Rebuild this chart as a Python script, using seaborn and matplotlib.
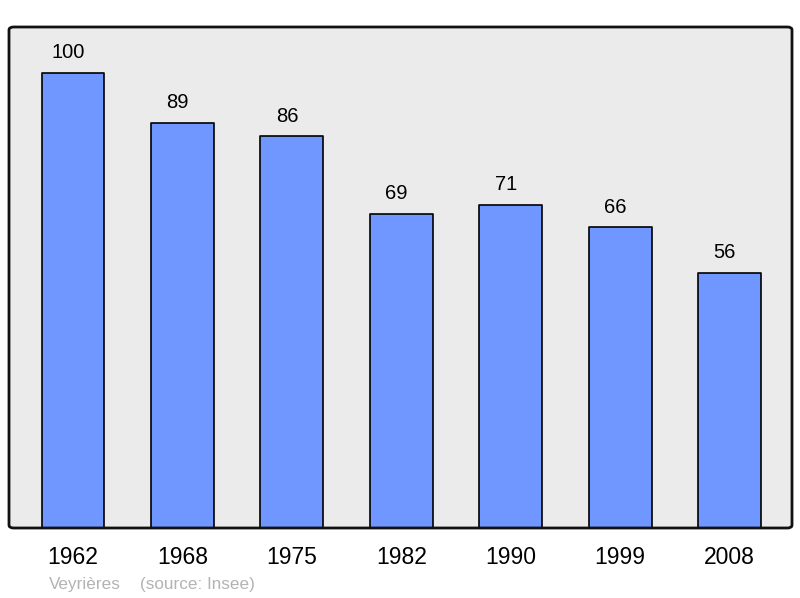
"""
Population de Veyrières (source: Insee)
"""

import matplotlib
matplotlib.use("Agg")
import matplotlib.pyplot as plt
from matplotlib.patches import FancyBboxPatch
import pandas as pd
import seaborn as sns

sns.set_style("white")
plt.rcParams["font.family"] = ["Liberation Sans", "DejaVu Sans"]
plt.rcParams["text.color"] = "black"
plt.rcParams["xtick.color"] = "black"

years = ["1962", "1968", "1975", "1982", "1990", "1999", "2008"]
population = [100, 89, 86, 69, 71, 66, 56]

data = pd.DataFrame({"annee": years, "pop": population})

fig = plt.figure(figsize=(8, 5.98), dpi=100)
ax = fig.add_axes([9 / 800, 70 / 598, 783 / 800, 501 / 598])
ax.set_facecolor("#ebebeb")

sns.barplot(data=data, x="annee", y="pop", color="#7096ff", saturation=1,
            width=0.575, edgecolor="black", linewidth=1.2, ax=ax, zorder=2)
for p in ax.patches:
    p.set_joinstyle("round")

# les étiquettes sont un peu décalées à gauche dans l'original
for i, v in enumerate(population):
    ax.text(i - 0.045, v + 4.4, str(v), ha="center", va="center", fontsize=14.5, color="black")

ax.set_xlim(-0.585, 6.571)
ax.set_ylim(0, 110)
ax.set_yticks([])
ax.set_xlabel("")
ax.set_ylabel("")
ax.tick_params(axis="x", length=0, labelsize=16.5, pad=13, labelcolor="black")
for s in ax.spines.values():
    s.set_visible(False)

frame = FancyBboxPatch((0, 0), 1, 1, boxstyle="round,pad=0,rounding_size=0.006",
                       transform=ax.transAxes, fill=False, edgecolor="#111111",
                       linewidth=2, clip_on=False, zorder=5)
ax.add_patch(frame)

fig.text(49 / 800, 1 - 584 / 598, "Veyrières", color="#b3b3b3", fontsize=12.3, va="center")
fig.text(140 / 800, 1 - 584 / 598, "(source: Insee)", color="#b3b3b3", fontsize=12.3, va="center")

fig.savefig("out.png", dpi=100)
